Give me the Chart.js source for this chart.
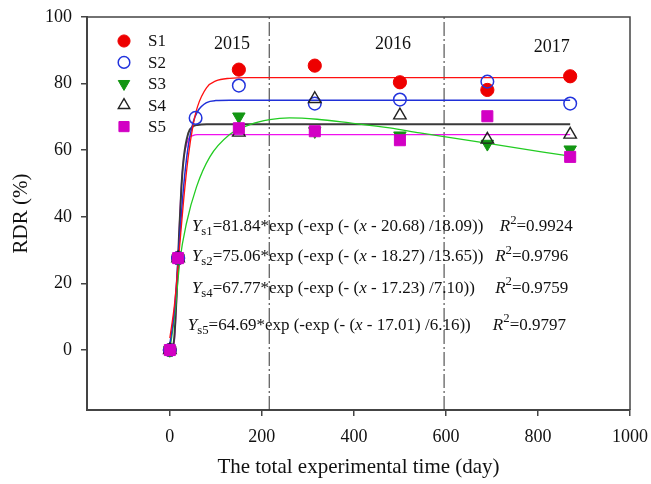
<!DOCTYPE html>
<html>
<head>
<meta charset="utf-8">
<title>RDR vs total experimental time</title>
<script src="https://cdn.jsdelivr.net/npm/chart.js@4.4.1/dist/chart.umd.min.js"></script>
<style>
  html, body { margin: 0; padding: 0; background: #fff; }
  #wrap { width: 651px; height: 484px; }
</style>
</head>
<body>
<div id="wrap"><canvas id="rdr-chart" width="651" height="484"></canvas></div>
<script>
const s1Days = [0, 18, 150, 315, 500, 690, 870];
const s1Rdr = [0, 27.6, 84.2, 85.4, 80.4, 78.1, 82.2];
const s2Days = [0, 18, 56, 150, 315, 500, 690, 870];
const s2Rdr = [0, 27.6, 69.7, 79.4, 74.0, 75.2, 80.6, 74.0];
const s3Days = [0, 18, 150, 315, 500, 690, 870];
const s3Rdr = [0, 27.6, 70.1, 65.7, 64.4, 61.9, 60.2];
const s4Days = [0, 18, 150, 315, 500, 690, 870];
const s4Rdr = [0, 27.6, 65.3, 75.4, 70.5, 63.2, 64.7];
const s5Days = [0, 18, 150, 315, 500, 690, 870];
const s5Rdr = [0, 27.6, 66.6, 65.7, 63.0, 70.2, 58.0];

// fitted curves
const fit1Days = [0, 10, 20, 30, 40, 50, 60, 80, 100, 130, 170, 870];
const fit1Rdr = [3.6, 13.5, 29.0, 45.0, 58.0, 67.1, 73.0, 78.8, 80.8, 81.6, 81.8, 81.8];
const fit2Days = [0, 10, 20, 30, 40, 50, 60, 80, 100, 130, 870];
const fit2Rdr = [1.7, 12.0, 31.1, 49.1, 61.2, 68.1, 71.6, 74.3, 74.9, 75.0, 75.0];
const fit3Days = [0, 11, 22, 36, 58, 87, 130, 174, 217, 260, 320, 391, 478, 543, 688, 870];
const fit3Rdr = [0, 11, 27, 38, 49, 58, 64.7, 67.7, 69.2, 69.7, 69.3, 68.2, 66.7, 65.2, 62.1, 58.2];
const fit4Days = [0, 5, 10, 15, 20, 25, 30, 40, 50, 60, 80, 870];
const fit4Rdr = [0, 0.3, 4.3, 17.2, 34.4, 48.5, 57.4, 65.1, 67.1, 67.6, 67.8, 67.8];
const fit5Days = [0, 5, 10, 15, 20, 25, 30, 40, 50, 60, 80, 870];
const fit5Rdr = [0, 0.1, 2.9, 16.2, 34.9, 49.2, 57.3, 63.2, 64.4, 64.7, 64.7, 64.7];

// year boundaries (day) and labels
const yearBreaks = [216, 596];
const yearNames = ["2015", "2016", "2017"];

const seriesNames = ["S1", "S2", "S3", "S4", "S5"];
const xTicks = [0, 200, 400, 600, 800, 1000];
const yTicks = [0, 20, 40, 60, 80, 100];

// equations printed on the plot
const eqNames = ["s1", "s2", "s4", "s5"];
const eqA = ["81.84", "75.06", "67.77", "64.69"];
const eqC = ["20.68", "18.27", "17.23", "17.01"];
const eqB = ["18.09", "13.65", "7.10", "6.16"];
const eqR2 = ["0.9924", "0.9796", "0.9759", "0.9797"];

const serif = "'Liberation Serif', 'Times New Roman', serif";

function pts(xs, ys) {
  return xs.map((x, i) => ({ x: x, y: ys[i] }));
}

const markerStyles = [
  { pointStyle: "circle", pointRadius: 6.6, backgroundColor: "#ee0000", borderColor: "#ee0000", pointBorderWidth: 1, rot: 0 },
  { pointStyle: "circle", pointRadius: 6.3, backgroundColor: "rgba(255,255,255,0)", borderColor: "#2233dd", pointBorderWidth: 1.5, rot: 0 },
  { pointStyle: "triangle", pointRadius: 7.2, backgroundColor: "#139613", borderColor: "#139613", pointBorderWidth: 1, rot: 180 },
  { pointStyle: "triangle", pointRadius: 7.2, backgroundColor: "rgba(255,255,255,0)", borderColor: "#222222", pointBorderWidth: 1.4, rot: 0 },
  { pointStyle: "rect", pointRadius: 7.8, backgroundColor: "#d200c4", borderColor: "#d200c4", pointBorderWidth: 1, rot: 0 }
];
const lineColors = ["#ff1010", "#2030d8", "#22cc22", "#3a3a3a", "#f010ee"];
const lineWidths = [1.3, 1.5, 1.3, 2, 1.3];

const pointSets = [pts(s1Days, s1Rdr), pts(s2Days, s2Rdr), pts(s3Days, s3Rdr), pts(s4Days, s4Rdr), pts(s5Days, s5Rdr)];
const fitSets = [pts(fit1Days, fit1Rdr), pts(fit2Days, fit2Rdr), pts(fit3Days, fit3Rdr), pts(fit4Days, fit4Rdr), pts(fit5Days, fit5Rdr)];

const datasets = [];
// markers - lower order is drawn on top, S5 ends up above the others
pointSets.forEach((d, i) => {
  const m = markerStyles[i];
  datasets.push({
    label: seriesNames[i],
    data: d,
    pointStyle: m.pointStyle,
    pointRadius: m.pointRadius,
    pointRotation: m.rot,
    pointBackgroundColor: m.backgroundColor,
    pointBorderColor: m.borderColor,
    pointBorderWidth: m.pointBorderWidth,
    showLine: false,
    order: 4 - i
  });
});
// fitted lines
fitSets.forEach((d, i) => {
  datasets.push({
    label: seriesNames[i] + " fit",
    data: d,
    showLine: true,
    borderColor: lineColors[i],
    borderWidth: lineWidths[i],
    pointRadius: 0,
    cubicInterpolationMode: "monotone",
    order: 10
  });
});
// year separators
yearBreaks.forEach(day => {
  datasets.push({
    label: "year " + day,
    data: [{ x: day, y: -18 }, { x: day, y: 100 }],
    showLine: true,
    borderColor: "#333",
    borderWidth: 1,
    borderDash: [14, 3, 2, 3],
    pointRadius: 0,
    order: 20
  });
});

// draws text made of pieces: [text, kind] with kind "", "i", "sub", "sup"
function drawRich(ctx, x, y, parts, size) {
  ctx.textBaseline = "middle";
  ctx.textAlign = "left";
  parts.forEach(p => {
    let s = size, dy = 0, style = "";
    if (p[1] === "i") style = "italic ";
    if (p[1] === "sub") { s = size * 0.75; dy = size * 0.3; }
    if (p[1] === "sup") { s = size * 0.75; dy = -size * 0.38; }
    ctx.font = style + s + "px " + serif;
    ctx.fillText(p[0], x, y + dy);
    x += ctx.measureText(p[0]).width;
  });
}

const annotations = {
  id: "annotations",
  afterDraw(chart) {
    const ctx = chart.ctx;
    const xs = chart.scales.x, ys = chart.scales.y;
    const area = chart.chartArea;
    ctx.save();

    // top and right frame
    ctx.strokeStyle = "#444";
    ctx.lineWidth = 1.5;
    ctx.beginPath();
    ctx.moveTo(area.left, area.top);
    ctx.lineTo(area.right, area.top);
    ctx.lineTo(area.right, area.bottom);
    ctx.stroke();

    // year labels
    ctx.fillStyle = "#111";
    ctx.font = "18px " + serif;
    ctx.textAlign = "center";
    ctx.textBaseline = "middle";
    const yearX = [135, 485, 830];
    const yearY = [91.7, 91.7, 90.8];
    yearNames.forEach((t, i) => {
      ctx.fillText(t, xs.getPixelForValue(yearX[i]), ys.getPixelForValue(yearY[i]));
    });

    // legend
    for (let i = 0; i < seriesNames.length; i++) {
      const m = markerStyles[i];
      const cy = area.top + 24 + i * 21.4;
      ctx.fillStyle = m.backgroundColor;
      ctx.strokeStyle = m.borderColor;
      ctx.lineWidth = m.pointBorderWidth;
      Chart.helpers.drawPoint(ctx, {
        pointStyle: m.pointStyle,
        radius: m.pointRadius * 0.92,
        rotation: m.rot,
        borderWidth: m.pointBorderWidth
      }, area.left + 37, cy);
      ctx.fillStyle = "#111";
      ctx.font = "17px " + serif;
      ctx.textAlign = "left";
      ctx.textBaseline = "middle";
      ctx.fillText(seriesNames[i], area.left + 61, cy + 1);
    }

    // equations
    ctx.fillStyle = "#111";
    const eqX = [48, 48, 48, 39];
    const eqY = [37, 28, 18.6, 7.5];
    const r2X = [717, 707, 707, 702];
    eqNames.forEach((n, i) => {
      const py = ys.getPixelForValue(eqY[i]);
      drawRich(ctx, xs.getPixelForValue(eqX[i]), py, [
        ["Y", "i"], [n, "sub"], ["=" + eqA[i] + "*exp (-exp (- (", ""], ["x", "i"],
        [" - " + eqC[i] + ") /" + eqB[i] + "))", ""]
      ], 17);
      drawRich(ctx, xs.getPixelForValue(r2X[i]), py, [
        ["R", "i"], ["2", "sup"], ["=" + eqR2[i], ""]
      ], 17);
    });
    ctx.restore();
  }
};

const axisColor = "#444";

new Chart(document.getElementById("rdr-chart"), {
  type: "scatter",
  data: { datasets: datasets },
  options: {
    responsive: false,
    animation: false,
    devicePixelRatio: 1,
    layout: { padding: { left: 0, right: 21, top: 17, bottom: 0 } },
    plugins: {
      legend: { display: false },
      tooltip: { enabled: false }
    },
    scales: {
      x: {
        type: "linear",
        min: -180,
        max: 1000,
        afterBuildTicks: scale => { scale.ticks = xTicks.map(v => ({ value: v })); },
        afterFit: scale => {
          scale.height = 74;
          scale.paddingLeft = 0;
          scale.paddingRight = 0;
        },
        grid: { drawOnChartArea: false, tickLength: 6, color: axisColor, lineWidth: 1.5 },
        border: { color: axisColor, width: 2 },
        ticks: { color: "#111", padding: 10, maxRotation: 0, callback: v => String(v), font: { family: serif, size: 18 } },
        title: {
          display: true,
          text: "The total experimental time (day)",
          color: "#111",
          font: { family: serif, size: 21 },
          padding: { top: 0, bottom: 4 }
        }
      },
      y: {
        type: "linear",
        min: -18,
        max: 100,
        afterBuildTicks: scale => { scale.ticks = yTicks.map(v => ({ value: v })); },
        afterFit: scale => {
          scale.width = 87;
          scale.paddingTop = 0;
          scale.paddingBottom = 0;
        },
        grid: { drawOnChartArea: false, tickLength: 6, color: axisColor, lineWidth: 1.5 },
        border: { color: axisColor, width: 2 },
        ticks: { color: "#111", padding: 9, callback: v => String(v), font: { family: serif, size: 18 } },
        title: {
          display: true,
          text: "RDR (%)",
          color: "#111",
          font: { family: serif, size: 21 },
          padding: { top: 9, bottom: 0 }
        }
      }
    }
  },
  plugins: [annotations]
});
</script>
</body>
</html>
